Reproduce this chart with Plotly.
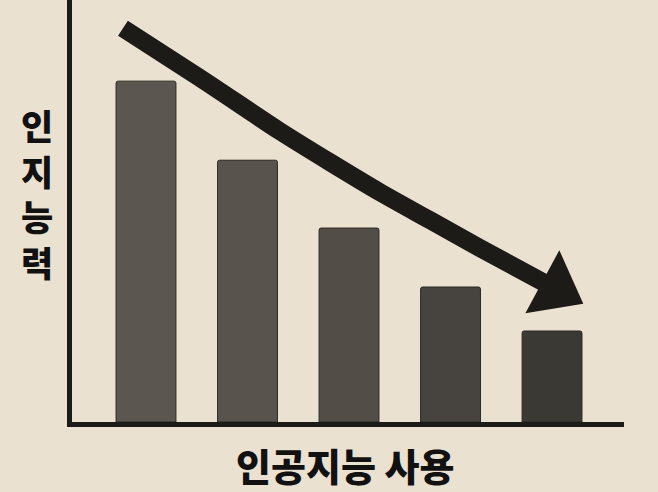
import plotly.graph_objects as go

# bar chart: AI usage vs cognitive ability
categories = ["1", "2", "3", "4", "5"]
ability = [100, 76.8, 56.9, 39.6, 26.7]
bar_colors = ["#5b564f", "#58534c", "#524d47", "#47443f", "#3b3934"]

# hand drawn trend arrow, in data units
trend_x = [-0.227, 0.532, 1.320, 1.813, 2.305, 2.798, 3.291, 4.039]
trend_y = [115.5, 100.9, 85.3, 76.2, 67.4, 59.2, 51.0, 39.0]

bg = "#ebe1d1"
ink = "#1c1b18"
font = "Noto Sans CJK KR"

fig = go.Figure()

fig.add_trace(go.Bar(
    x=categories, y=ability,
    width=0.59,
    marker=dict(color=bar_colors, line=dict(color="#2b2925", width=1), cornerradius=2),
    hoverinfo="skip",
))

fig.add_trace(go.Scatter(
    x=trend_x, y=trend_y,
    xaxis="x2",
    mode="lines",
    line=dict(color=ink, width=18, shape="spline", smoothing=0.8),
    hoverinfo="skip",
))
# arrow head sits on the last point of the trend
fig.add_trace(go.Scatter(
    x=trend_x[-2:], y=trend_y[-2:],
    xaxis="x2",
    mode="markers",
    marker=dict(symbol="triangle-up", size=[0, 62], color=ink, opacity=1,
                angleref="previous", line=dict(width=0)),
    hoverinfo="skip",
))

x_range = [-0.729, 4.709]
fig.update_layout(
    width=658, height=492,
    margin=dict(l=72, r=34, t=0, b=70),
    paper_bgcolor=bg, plot_bgcolor=bg,
    showlegend=False,
    xaxis=dict(range=x_range, showticklabels=False, ticks="", showgrid=False, zeroline=False,
               showline=True, linecolor=ink, linewidth=5, fixedrange=True),
    xaxis2=dict(range=x_range, overlaying="x", visible=False, fixedrange=True),
    yaxis=dict(range=[0, 123.8], showticklabels=False, ticks="", showgrid=False, zeroline=False,
               showline=True, linecolor=ink, linewidth=5, fixedrange=True),
    annotations=[
        dict(text="인<br>지<br>능<br>력", xref="paper", yref="paper", x=-0.0634, y=0.543,
             xanchor="center", yanchor="middle", showarrow=False,
             font=dict(family=font, size=35, color="#111111", weight=900)),
        dict(text="인공지능 사용", xref="paper", yref="paper", x=0.4946, y=-0.1,
             xanchor="center", yanchor="middle", showarrow=False,
             font=dict(family=font, size=38, color="#111111", weight=900)),
    ],
)

fig.write_html("out.html", config={"displayModeBar": False},
               post_script="document.body.style.margin='0';document.body.style.background='#ebe1d1';")
